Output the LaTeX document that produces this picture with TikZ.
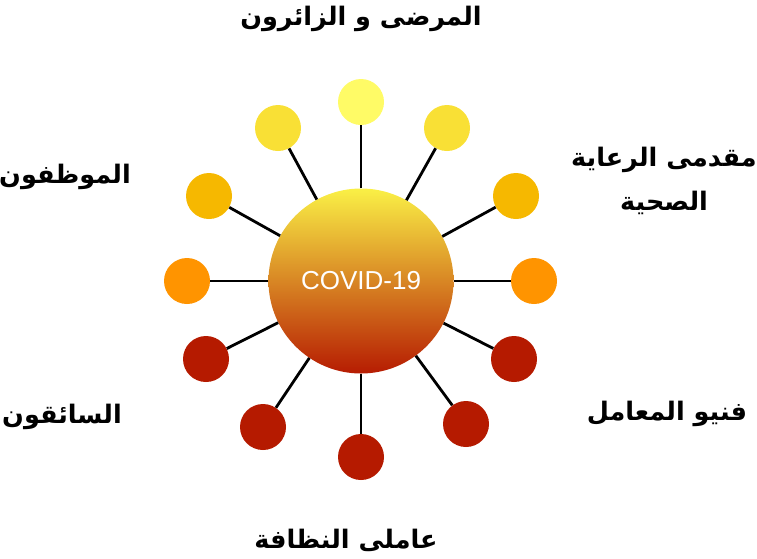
\documentclass[tikz,border=0pt]{standalone}
\usepackage{fontspec}
\setmainfont{Liberation Sans}
\newfontfamily\arabicfont[Script=Arabic]{DejaVu Sans}
\TeXXeTstate=1
\definecolor{cLight}{RGB}{255,251,102}
\definecolor{cYel}{RGB}{249,224,53}
\definecolor{cGold}{RGB}{246,184,0}
\definecolor{cOrg}{RGB}{255,148,0}
\definecolor{cRed}{RGB}{181,26,0}
\definecolor{gTop}{RGB}{250,240,70}
\definecolor{gMid}{RGB}{226,146,42}
\definecolor{gBot}{RGB}{182,28,2}
\tikzset{
  dot/.style={circle, minimum size=46pt, inner sep=0pt, fill=#1},
  spoke/.style={line width=2.8pt, black},
  lbl/.style={font=\arabicfont\bfseries\fontsize{25.5}{44}\selectfont, align=center, text=black}
}
\begin{document}
\begin{tikzpicture}[x=1pt,y=-1pt]
\useasboundingbox (0,0) rectangle (757,558);
\node[circle, minimum size=185pt, inner sep=0pt, top color=gTop, middle color=gMid, bottom color=gBot,
  text=white, font=\fontsize{26}{30}\selectfont] (c) at (361,281) {COVID-19};
\node[dot=cLight] (s1) at (361,102) {};
\node[dot=cYel] (s2) at (278,128) {};
\node[dot=cYel] (s3) at (447,128) {};
\node[dot=cGold] (s4) at (209,196) {};
\node[dot=cGold] (s5) at (516,196) {};
\node[dot=cOrg] (s6) at (187,281) {};
\node[dot=cOrg] (s7) at (534,281) {};
\node[dot=cRed] (s8) at (206,359) {};
\node[dot=cRed] (s9) at (514,359) {};
\node[dot=cRed] (s10) at (263,427) {};
\node[dot=cRed] (s11) at (466,424) {};
\node[dot=cRed] (s12) at (361,457) {};
\foreach \s in {s1,s2,s3,s4,s5,s6,s7,s8,s9,s10,s11,s12}{
  \draw[spoke] (c) -- (\s);
}
\node[lbl] (t1) at (361,19) {\beginR المرضى و الزائرون\endR};
\node[lbl] (t2) at (664,181) {\beginR مقدمى الرعاية\endR\\\beginR الصحية\endR};
\node[lbl] (t3) at (65,177) {\beginR الموظفون\endR};
\node[lbl] (t4) at (62,417) {\beginR السائقون\endR};
\node[lbl] (t5) at (667,414) {\beginR فنيو المعامل\endR};
\node[lbl] (t6) at (346,540) {\beginR عاملى النظافة\endR};
\end{tikzpicture}
\end{document}
